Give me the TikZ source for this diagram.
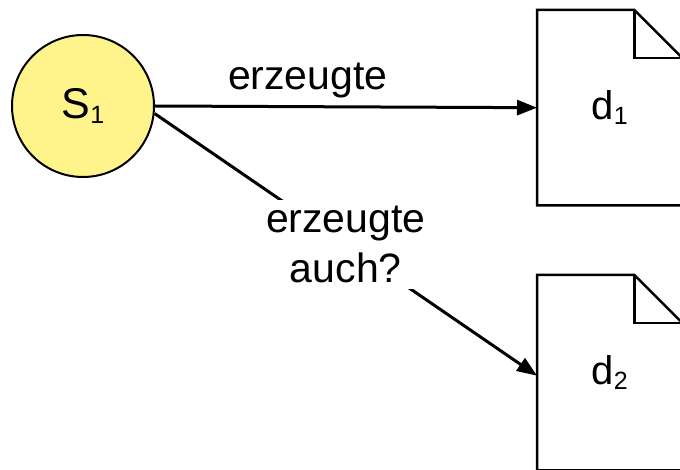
\documentclass[tikz,border=0pt]{standalone}
\usepackage{fontspec}
\setmainfont{Liberation Sans}
\usetikzlibrary{arrows.meta}
\definecolor{statefill}{RGB}{255,244,140}
\begin{document}
\begin{tikzpicture}[x=1pt,y=-1pt,
  conn/.style={line width=3pt,-{Triangle[length=20pt,width=15pt]}},
  lbl/.style={font=\fontsize{41}{50}\selectfont},
  state/.style={circle,draw,line width=2pt,fill=statefill,
    minimum size=142pt,inner sep=0pt,font=\fontsize{43}{43}\selectfont},
  docnode/.style={rectangle,anchor=north west,minimum width=145pt,
    minimum height=195pt,inner sep=0pt,font=\fontsize{40}{40}\selectfont},
  docline/.style={line width=2.5pt,line join=miter}]
\useasboundingbox (0,0) rectangle (680,470);

% document outline with a folded top-right corner
\newcommand\docoutline[1]{%
  \draw[docline] (#1.north west) -- ([xshift=-48pt]#1.north east)
    -- ([yshift=-48pt]#1.north east) -- (#1.south east)
    -- (#1.south west) -- cycle;
  \draw[docline] ([xshift=-48pt]#1.north east) |- ([yshift=-48pt]#1.north east);}

\node[state] (s1) at (83,106) {S\raisebox{-5pt}{\fontsize{25}{25}\selectfont 1}};

\node[docnode] (d1) at (537,10) {d\raisebox{-5pt}{\fontsize{25}{25}\selectfont 1}};
\docoutline{d1}
\node[docnode] (d2) at (537,275) {d\raisebox{-5pt}{\fontsize{25}{25}\selectfont 2}};
\docoutline{d2}

\draw[conn] (s1.east) -- (d1.west)
  node[lbl,pos=0.4,above=4pt] {erzeugte};
\draw[conn] (s1.-6) -- ([yshift=-3pt]d2.west)
  node[lbl,pos=0.5,fill=white,align=center,inner sep=6pt] {erzeugte\\auch?};
\end{tikzpicture}
\end{document}
